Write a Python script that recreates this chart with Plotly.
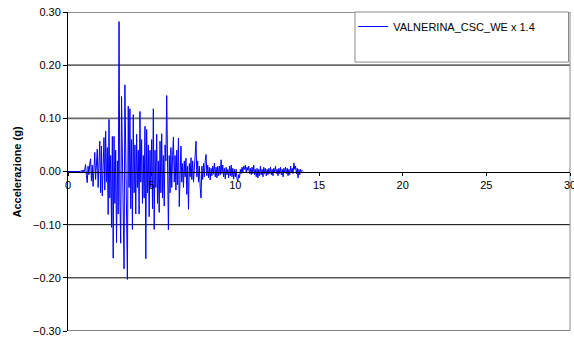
import plotly.graph_objects as go

dt = 0.05
acc_s0 = [0.000, 0.000, 0.000, 0.000, 0.000, 0.000, 0.000, 0.000, 0.000, 0.000,
          0.000, 0.000, 0.000, 0.000, 0.001, 0.000, 0.002, -0.001, 0.003, -0.002]
acc_s1 = [0.004, 0.013, -0.008, -0.021, 0.010, -0.006, 0.015, 0.024, -0.018, 0.012,
          -0.028, 0.020, 0.036, -0.015, 0.025, 0.042, -0.030, 0.030, 0.057, -0.040]
acc_s2 = [0.048, -0.046, 0.030, 0.064, -0.035, 0.076, -0.020, 0.045, -0.081, 0.098,
          -0.050, 0.030, -0.105, 0.066, -0.163, 0.066, -0.060, 0.040, -0.134, 0.020]
acc_s3 = [-0.080, 0.282, -0.050, -0.135, 0.141, 0.050, -0.100, -0.183, 0.163, 0.020,
          -0.060, -0.203, 0.123, -0.030, 0.118, -0.070, 0.060, -0.109, 0.107, -0.040]
acc_s4 = [0.050, -0.080, 0.070, -0.030, 0.040, -0.080, 0.113, -0.020, 0.060, -0.060,
          0.030, -0.050, 0.085, -0.164, 0.079, -0.040, 0.050, -0.085, 0.040, -0.030]
acc_s5 = [0.060, -0.070, 0.118, -0.109, 0.040, -0.030, 0.070, -0.060, 0.020, -0.077,
          0.057, -0.040, 0.071, -0.050, 0.030, -0.065, 0.050, 0.020, 0.143, -0.050]
acc_s6 = [-0.110, 0.030, -0.040, 0.045, -0.030, 0.030, 0.065, -0.020, 0.030, -0.035,
          0.040, -0.025, 0.063, -0.066, 0.010, 0.048, -0.020, 0.015, -0.030, 0.020]
acc_s7 = [-0.010, 0.025, -0.043, 0.010, -0.071, 0.015, -0.010, 0.026, -0.015, 0.020,
          -0.020, 0.010, 0.030, 0.057, -0.010, 0.020, -0.020, 0.010, -0.030, -0.050]
acc_s8 = [0.010, -0.015, 0.015, -0.010, 0.020, 0.032, -0.008, 0.012, -0.012, 0.008,
          -0.016, 0.006, -0.008, 0.010, -0.005, 0.016, -0.010, 0.008, -0.012, 0.010]
acc_s9 = [-0.008, 0.010, -0.006, 0.022, -0.004, 0.012, -0.010, 0.006, -0.014, 0.008,
          -0.006, 0.004, -0.012, 0.010, -0.008, 0.012, -0.010, 0.006, -0.014, 0.004]
acc_s10 = [-0.010, 0.004, -0.014, -0.018, -0.006, -0.012, 0.004, -0.004, 0.008, -0.002,
           0.010, 0.004, 0.012, -0.002, 0.008, 0.002, 0.010, -0.004, 0.006, -0.006]
acc_s11 = [0.008, -0.004, 0.012, -0.006, 0.004, -0.010, 0.006, -0.012, 0.004, -0.008,
           0.010, -0.006, 0.004, -0.010, 0.008, -0.004, 0.006, -0.008, 0.004, -0.006]
acc_s12 = [0.006, -0.004, 0.008, -0.006, 0.004, -0.008, 0.006, -0.002, 0.010, -0.004,
           0.004, -0.008, 0.006, -0.004, 0.008, -0.006, 0.004, -0.010, 0.006, -0.002]
acc_s13 = [0.008, -0.004, 0.006, -0.008, 0.004, -0.006, 0.010, -0.002, 0.006, -0.004,
           0.016, 0.004, 0.010, -0.004, 0.006, -0.012, 0.004, -0.006, 0.004, 0.000]
acc_s14 = [0.002, 0.000]

series_name = "VALNERINA_CSC_WE x 1.4"
y_ticks = [-0.30, -0.20, -0.10, 0.00, 0.10, 0.20, 0.30]
x_ticks = [0, 5, 10, 15, 20, 25, 30]

acc = (acc_s0 + acc_s1 + acc_s2 + acc_s3 + acc_s4 + acc_s5 + acc_s6 + acc_s7
       + acc_s8 + acc_s9 + acc_s10 + acc_s11 + acc_s12 + acc_s13 + acc_s14)
time = [round(i * dt, 3) for i in range(len(acc))]

FONT = "Liberation Sans, Arial, sans-serif"

fig = go.Figure()
fig.add_trace(go.Scatter(x=time, y=acc, mode="lines", name=series_name,
                         line=dict(color="#0000FF", width=1), showlegend=True))

# gridlines as shapes (upper ones appear grey, lower ones black)
for v in y_ticks:
    if v == 0:
        continue
    col, w = ("#6a6a6a", 1.6) if v > 0 else ("#000000", 1)
    fig.add_shape(type="line", xref="paper", yref="y", x0=0, x1=1, y0=v, y1=v,
                  line=dict(color=col, width=w), layer="below")
# right border
fig.add_shape(type="line", xref="paper", yref="paper", x0=1, x1=1, y0=0, y1=1,
              line=dict(color="#8a8a8a", width=1), layer="below")
# legend box
fig.add_shape(type="rect", xref="paper", yref="paper", x0=0.5717, x1=0.997, y0=0.843, y1=1.0,
              line=dict(color="#8a8a8a", width=1), fillcolor="white", layer="above")

fig.update_layout(
    width=574, height=341,
    margin=dict(l=68, r=4, t=12, b=10, autoexpand=False),
    paper_bgcolor="white", plot_bgcolor="white",
    font=dict(family=FONT, size=11, color="black"),
    showlegend=True,
    legend=dict(x=0.568, xanchor="left", y=1.0, yanchor="top",
                bgcolor="rgba(0,0,0,0)", borderwidth=0,
                font=dict(family=FONT, size=11, color="black")),
    xaxis=dict(range=[0, 30], tickvals=x_ticks, ticktext=[str(v) for v in x_ticks],
               showgrid=False, zeroline=False, showline=True, linecolor="black", linewidth=1,
               ticks="outside", ticklen=3, tickcolor="black", automargin=False,
               anchor="free", position=0.5, ticklabeloverflow="allow",
               tickfont=dict(family=FONT, size=11, color="black")),
    yaxis=dict(range=[-0.30, 0.30], tickvals=y_ticks, tickformat=".2f",
               showgrid=False, zeroline=False, showline=True, linecolor="black", linewidth=1,
               ticks="outside", ticklen=4, tickcolor="black", automargin=False,
               tickfont=dict(family=FONT, size=11, color="black")),
)

fig.add_annotation(text="<b>Accelerazione (g)</b>", xref="paper", yref="paper",
                   x=-0.1016, y=0.5, xanchor="center", yanchor="middle", textangle=-90,
                   showarrow=False, font=dict(family=FONT, size=11, color="black"))

fig.write_html("out.html")
